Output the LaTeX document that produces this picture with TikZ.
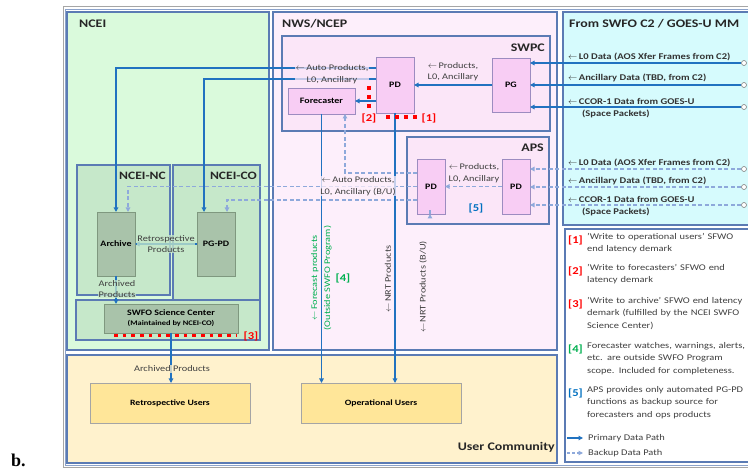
\documentclass[tikz,border=0pt]{standalone}
\usepackage{fontspec}
\setmainfont{Carlito}[FakeStretch=1.2]
\newfontfamily\serifb{Liberation Serif}
\usetikzlibrary{arrows.meta,shadows,calc}
\definecolor{bord}{HTML}{5B7BB4}
\definecolor{nceifill}{HTML}{DAFADC}
\definecolor{subgreen}{HTML}{C6E8CA}
\definecolor{gbox}{HTML}{A9C3AA}
\definecolor{gbord}{HTML}{7F987F}
\definecolor{nwsfill}{HTML}{FDEFFB}
\definecolor{swpcfill}{HTML}{FBE6F8}
\definecolor{pdfill}{HTML}{F8CDF4}
\definecolor{pdbord}{HTML}{9C8CC0}
\definecolor{c2fill}{HTML}{D6FBFD}
\definecolor{ucfill}{HTML}{FFF2CD}
\definecolor{ubox}{HTML}{FFE699}
\definecolor{ubord}{HTML}{A5A5A5}
\definecolor{primc}{HTML}{2172C0}
\definecolor{backc}{HTML}{8EA9DB}
\definecolor{rd}{HTML}{FF0000}
\definecolor{gr}{HTML}{00B050}
\definecolor{bl}{HTML}{0070C0}
\definecolor{txt}{HTML}{404040}
\newcommand{\bx}[7]{\node[#6, minimum width={(#4-#2)*1pt}, minimum height={(#5-#3)*1pt}] (#1) at ({(#2+#4)/2},{(#3+#5)/2}) {#7};}
\newcommand{\la}{$\leftarrow$\,}
\tikzset{
  region/.style={draw=bord, line width=1.1pt, inner sep=0pt, outer sep=0pt},
  shad/.style={drop shadow={opacity=0.35, shadow xshift=1.2pt, shadow yshift=-1.2pt}},
  pbox/.style={draw=pdbord, fill=pdfill, line width=0.8pt, shad, inner sep=0pt, outer sep=0pt, font=\bfseries\fontsize{8.3}{9}\selectfont},
  gboxs/.style={draw=gbord, fill=gbox, line width=0.8pt, shad, inner sep=0pt, outer sep=0pt, font=\bfseries\fontsize{8.3}{9}\selectfont, align=center},
  ubx/.style={draw=ubord, fill=ubox, line width=0.8pt, shad, inner sep=0pt, outer sep=0pt, font=\bfseries\fontsize{8.1}{9}\selectfont},
  primary/.style={draw=primc, line width=1.4pt, -{Triangle[length=4.5pt,width=4.5pt]}},
  backup/.style={draw=backc, line width=1.4pt, dash pattern=on 4pt off 2.5pt, -{Triangle[length=4.5pt,width=4.5pt]}},
  lbl/.style={font=\fontsize{8.6}{11.5}\selectfont, text=txt, align=center, inner sep=0.5pt, fill opacity=0.75, text opacity=1},
  title/.style={font=\bfseries\fontsize{11.6}{14}\selectfont, text=black!85, inner sep=0pt},
  subtitle/.style={font=\bfseries\fontsize{11.3}{13}\selectfont, text=black!85, inner sep=0pt},
  src/.style={font=\bfseries\fontsize{8.8}{10}\selectfont, text=black!80, anchor=west, inner sep=0pt},
  circ/.style={circle, draw=gray, fill=white, line width=0.6pt, inner sep=0pt, minimum size=5pt},
  tag/.style={font=\bfseries\fontsize{10.5}{12}\selectfont, inner sep=0pt},
  leg/.style={font=\fontsize{8.7}{12.6}\selectfont, text=txt, anchor=north west, align=left, inner sep=0pt, text width=200pt},
  reddots/.style={draw=rd, line width=3.6pt},
}
\begin{document}
\begin{tikzpicture}[x=1pt,y=-1pt]
\useasboundingbox (0,0) rectangle (748,470);
% outer frame
\draw[draw=gray!70, line width=1pt, fill=white] (63,7) rectangle (756,468);
\draw[draw=bord!70, line width=0.5pt] (65.5,9.5) rectangle (756,465.5);
% regions
\bx{ncei}{67}{12}{269}{350}{region, fill=nceifill}{}
\bx{nws}{273}{12}{557}{350}{region, fill=nwsfill}{}
\bx{c2}{563}{12}{760}{225}{region, fill=c2fill}{}
\bx{legend}{565}{229}{760}{462}{region, fill=white}{}
\bx{uc}{67}{355}{557}{463}{region, fill=ucfill}{}
\bx{swpc}{282}{36}{550}{131}{region, fill=swpcfill}{}
\bx{aps}{407}{137}{549}{224}{region, fill=swpcfill}{}
\bx{nc}{77}{165}{170}{295}{region, fill=subgreen}{}
\bx{co}{173}{165}{260}{300}{region, fill=subgreen}{}
\bx{scb}{76}{300}{260}{340}{region, fill=subgreen}{}
% titles
\node[title, anchor=west] (tncei) at (79,24) {NCEI};
\node[title, anchor=west] (tnws) at (282,24) {NWS/NCEP};
\node[title, anchor=west] (tc2) at (569,24) {From SWFO C2 / GOES-U MM};
\node[title, anchor=east] (tswpc) at (545,48) {SWPC};
\node[title, anchor=east] (taps) at (544,148) {APS};
\node[subtitle, anchor=east] (tnc) at (166,176) {NCEI-NC};
\node[subtitle, anchor=east] (tco) at (257,176) {NCEI-CO};
\node[title, anchor=east] (tuc) at (555,447) {User Community};
% inner boxes
\bx{pd1}{376}{57}{414}{113}{pbox}{PD}
\bx{pg}{492}{58}{530}{112}{pbox}{PG}
\bx{fc}{288}{88}{355}{114}{pbox}{Forecaster}
\bx{pd2}{417}{159}{445}{214}{pbox}{PD}
\bx{pd3}{502}{159}{530}{214}{pbox}{PD}
\bx{arch}{97}{212}{135}{276}{gboxs}{Archive}
\bx{pgpd}{197}{212}{235}{276}{gboxs}{PG-PD}
\bx{sc}{104}{304}{238}{333}{gboxs}{\fontsize{8.3}{10}\selectfont SWFO Science Center\\[1pt]\fontsize{7}{9}\selectfont (Maintained by NCEI-CO)}
\bx{ru}{90}{383}{250}{423}{ubx}{Retrospective Users}
\bx{ou}{301}{383}{461}{423}{ubx}{Operational Users}
% source circles
\node[circ] (s1) at (744,63) {};
\node[circ] (s2) at (744,85) {};
\node[circ] (s3) at (744,107) {};
\node[circ] (t1) at (744,169) {};
\node[circ] (t2) at (744,187) {};
\node[circ] (t3) at (744,205) {};
% source labels
\node[src] (l1) at (568,57) {\la L0 Data (AOS Xfer Frames from C2)};
\node[src] (l2) at (568,78) {\la Ancillary Data (TBD, from C2)};
\node[src] (l3) at (568,101) {\la CCOR-1 Data from GOES-U};
\node[src] (l3b) at (582,114) {(Space Packets)};
\node[src] (m1) at (568,163) {\la L0 Data (AOS Xfer Frames from C2)};
\node[src] (m2) at (568,181) {\la Ancillary Data (TBD, from C2)};
\node[src] (m3) at (568,199) {\la CCOR-1 Data from GOES-U};
\node[src] (m3b) at (582,212) {(Space Packets)};
% backup paths
\draw[backup] (t1.west) -- (t1 -| pd3.east);
\draw[backup] (t2.west) -- (t2 -| pd3.east);
\draw[backup] (t3.west) -- (t3 -| pd3.east);
\draw[backup] (pd3.west) -- (pd2.east);
\draw[backup] ($(pd2.west)+(0,-13.5)$) -| ($(fc.south)+(23.5,0)$);
\draw[backup] (pd2.west) -| ($(arch.north)+(12,0)$);
\draw[backup] ($(pd2.west)+(0,13.5)$) -| ($(pgpd.north)+(11,0)$);
\draw[backup] ($(pd2.south)+(-1,0)$) -- ($(pd2.south)+(-1,0)$ |- ou.north);
% primary paths
\draw[primary] (s1.west) -- (s1 -| pg.east);
\draw[primary] (s2.west) -- (s2 -| pg.east);
\draw[primary] (s3.west) -- (s3 -| pg.east);
\draw[primary] (pg.west) -- (pd1.east);
\draw[primary] (pd1.west |- fc.east) -- (fc.east);
\draw[primary] ($(pd1.west)+(0,-17)$) -| (arch.north);
\draw[primary] ($(pd1.west)+(0,-6)$) -| ($(pgpd.north)+(-12,0)$);
\draw[primary] (fc.south) -- (fc.south |- ou.north);
\draw[primary] (pd1.south) -- (pd1.south |- ou.north);
\draw[primary] (arch.south) -- (arch.south |- sc.north);
\draw[primary] (pgpd.west) -- (arch.east);
\draw[primary] (sc.south) -- (sc.south |- ru.north);
% path labels
\node[lbl, fill=swpcfill] (a1) at (332,74) {\la Auto Products,\\L0, Ancillary};
\node[lbl, fill=swpcfill] (a2) at (453,71.5) {\la Products,\\L0, Ancillary};
\node[lbl, fill=swpcfill] (a3) at (474,173) {\la Products,\\L0, Ancillary};
\node[lbl, fill=nwsfill] (a4) at (358,186) {\la Auto Products,\\L0, Ancillary (B/U)};
\node[lbl, fill=subgreen] (a5) at (166,244) {Retrospective\\Products};
\node[lbl, fill=subgreen] (a6) at (117,289) {Archived\\Products};
\node[lbl, fill=ucfill] (a7) at (172,369) {Archived Products};
\node[lbl, rotate=90, text=gr, font=\fontsize{8.6}{13}\selectfont] (a8) at (321.5,278) {\la Forecast products\\(Outside SWFO Program)};
\node[lbl, rotate=90] (a9) at (388,279) {\la NRT Products};
\node[lbl, rotate=90] (a10) at (423,287) {\la NRT Products (B/U)};
% tags
\node[tag, text=gr] (k4) at (343,278) {[4]};
\node[tag, text=bl] (k5) at (476,208) {[5]};
\node[tag, text=rd] (k2) at (369,118) {[2]};
\node[tag, text=rd] (k1) at (429,118) {[1]};
\node[tag, text=rd] (k3) at (251,336) {[3]};
% red demarks
\draw[reddots, dash pattern=on 3.6pt off 5.4pt] (369,86) -- (369,110);
\draw[reddots, dash pattern=on 3.6pt off 5.4pt] (386,117) -- (418,117);
\draw[reddots, dash pattern=on 3.6pt off 5.1pt] (114,335.5) -- (236,335.5);
% legend
\node[tag, text=rd, anchor=west] (g1) at (568,240) {[1]};
\node[leg] (h1) at (587,233) {'Write to operational users' SFWO\\end latency demark};
\node[tag, text=rd, anchor=west] (g2) at (568,271) {[2]};
\node[leg] (h2) at (587,264) {'Write to forecasters' SFWO end\\latency demark};
\node[tag, text=rd, anchor=west] (g3) at (568,304) {[3]};
\node[leg] (h3) at (587,297) {'Write to archive' SFWO end latency\\demark (fulfilled by the NCEI SWFO\\Science Center)};
\node[tag, text=gr, anchor=west] (g4) at (568,349) {[4]};
\node[leg] (h4) at (587,342) {Forecaster watches, warnings, alerts,\\etc. are outside SWFO Program\\scope. Included for completeness.};
\node[tag, text=bl, anchor=west] (g5) at (568,393) {[5]};
\node[leg] (h5) at (587,386) {APS provides only automated PG-PD\\functions as backup source for\\forecasters and ops products};
\coordinate (lp1) at (567,438);
\coordinate (lp2) at (583,438);
\coordinate (lb1) at (567,453);
\coordinate (lb2) at (583,453);
\draw[primary] (lp1) -- (lp2);
\draw[backup, dash pattern=on 3pt off 2pt] (lb1) -- (lb2);
\node[leg, anchor=west, text width=] (pp) at (588,438) {Primary Data Path};
\node[leg, anchor=west, text width=] (bp) at (588,453) {Backup Data Path};
% figure letter
\node[anchor=base west, inner sep=0pt, font=\serifb\bfseries\fontsize{18}{18}\selectfont] (fb) at (11,467) {b.};
\end{tikzpicture}
\end{document}
